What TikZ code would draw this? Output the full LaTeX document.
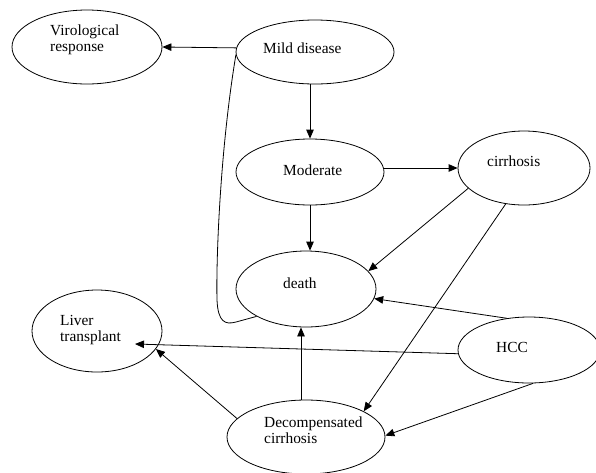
\documentclass[tikz,border=0pt]{standalone}
\usepackage{fontspec}
\setmainfont{Liberation Serif}
\usetikzlibrary{arrows.meta,shapes.geometric}
\begin{document}
\begin{tikzpicture}[x=1pt,y=1pt,
  ell/.style={draw, ellipse, inner sep=0pt, line width=0.8pt},
  lbl/.style={anchor=west, align=left, inner sep=0pt, font=\fontsize{15.4}{16.5}\selectfont},
  arr/.style={line width=0.8pt, -{Triangle[length=9pt,width=7.5pt]}},
  plain/.style={line width=0.8pt}]
\useasboundingbox (0,0) rectangle (596,-472);
\clip (0,0) rectangle (596,-472);
% ellipses
\node[ell, minimum width=150pt, minimum height=74pt] (V)  at (87,-47)  {};
\node[ell, minimum width=158pt, minimum height=64pt] (M)  at (315,-52) {};
\node[ell, minimum width=148pt, minimum height=66pt] (Mo) at (310,-172) {};
\node[ell, minimum width=132pt, minimum height=74pt] (C)  at (524,-168) {};
\node[ell, minimum width=140pt, minimum height=76pt] (D)  at (306,-289) {};
\node[ell, minimum width=130pt, minimum height=82pt] (L)  at (97,-331) {};
\node[ell, minimum width=142pt, minimum height=66pt] (H)  at (529,-350) {};
\node[ell, minimum width=158pt, minimum height=74pt] (DC) at (306,-437) {};
% labels
\node[lbl] (tV)  at (50,-40)  {Virological\\response};
\node[lbl] (tM)  at (263,-48) {Mild disease};
\node[lbl] (tMo) at (283,-170) {Moderate};
\node[lbl] (tC)  at (487,-161) {cirrhosis};
\node[lbl] (tD)  at (283,-283) {death};
\node[lbl] (tL)  at (60,-330)  {Liver\\transplant};
\node[lbl] (tH)  at (496,-347) {HCC};
\node[lbl] (tDC) at (264,-430) {Decompensated\\cirrhosis};
% connectors
\draw[arr] (M.177) -- (V.east);
\draw[arr] (Mo.north |- M.south) -- (Mo.north);
\draw[arr] (Mo.east |- C.west) -- (C.west);
\draw[arr] (Mo.south) -- (Mo.south |- D.north);
\draw[arr] (C.200) -- (D.16);
\draw[arr] (C.243) -- (DC.24);
\draw[arr] (H.125) -- (D.-8);
\draw[arr] (H.183) -- ([shift={(38,-13)}]L.center);
\draw[arr] (DC.165) -- (L.-17);
\draw[arr] (H.-83) -- (DC.1);
\draw[arr] ([xshift=-5pt]DC.north) -- ([xshift=-5pt]D.south);
\draw[plain] (M.182) .. controls (220,-150) and (216,-260) .. (217,-300)
  .. controls (218,-322) and (225,-325) .. (236,-322) -- (D.209);
\end{tikzpicture}
\end{document}
